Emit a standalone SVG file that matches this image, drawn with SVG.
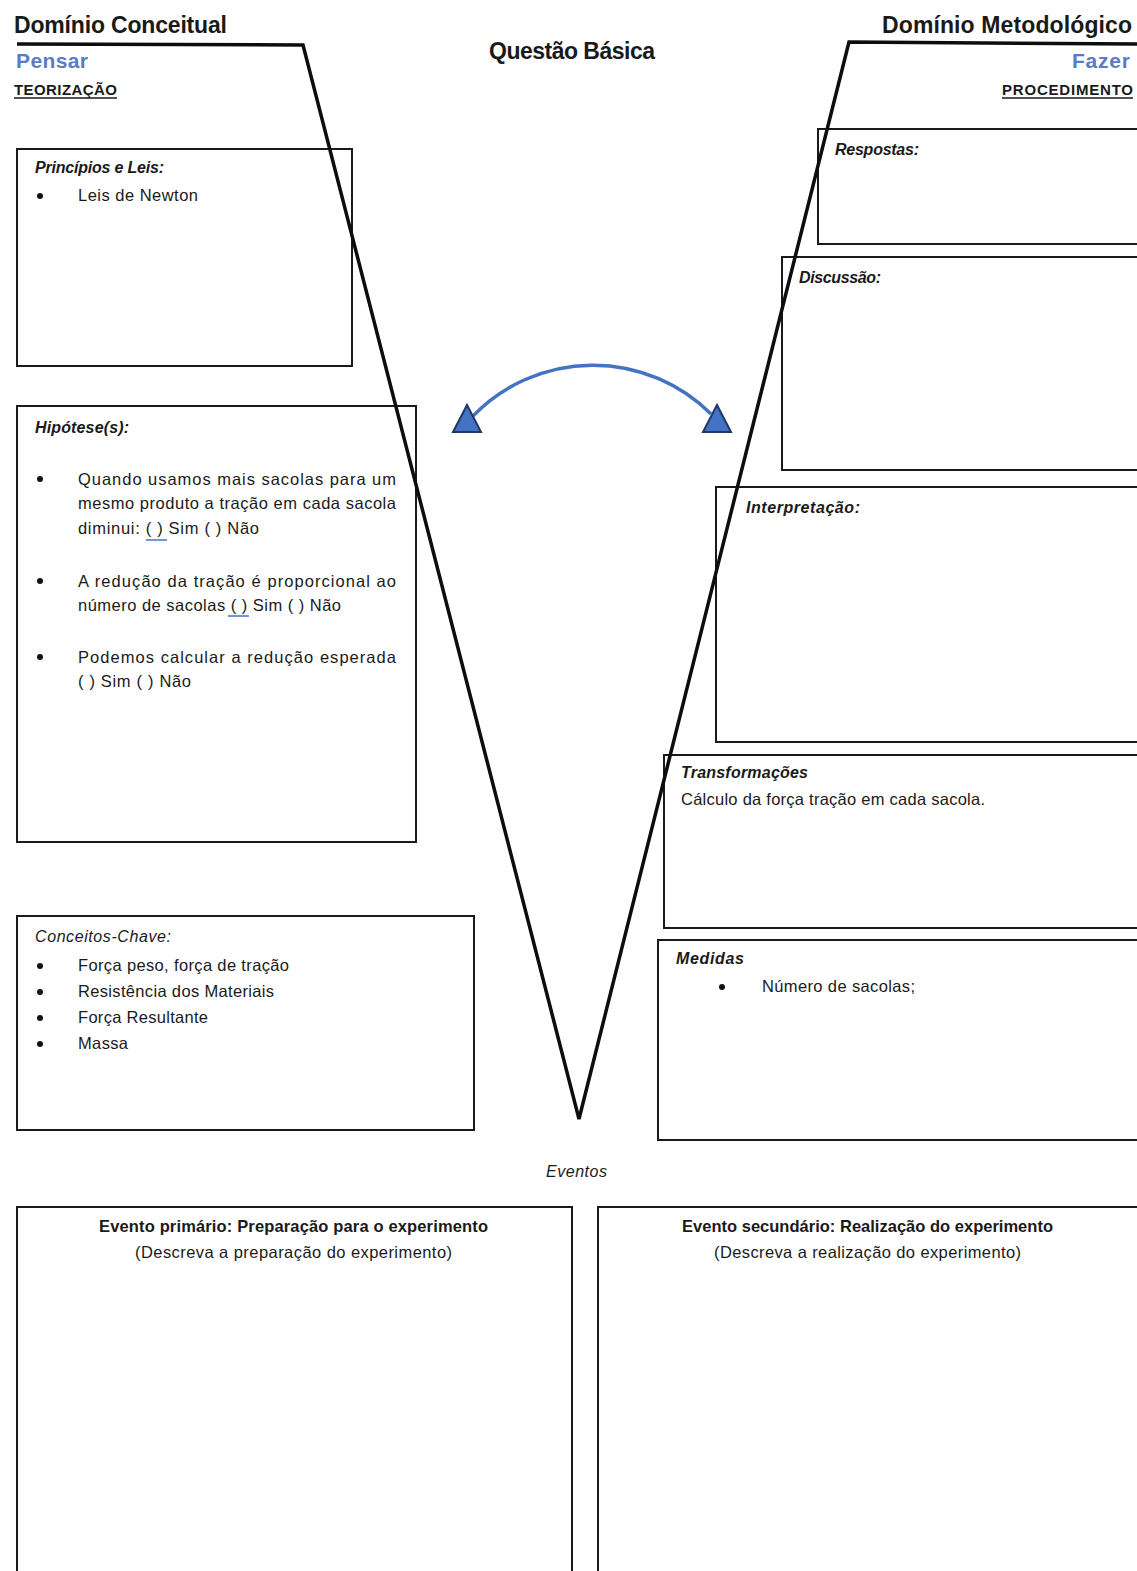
<svg xmlns="http://www.w3.org/2000/svg" width="1137" height="1571" viewBox="0 0 1137 1571">
  <style>
    text { font-family: "Liberation Sans", Arial, sans-serif; fill: #1a1a1a; }
    .head { font-size: 23px; font-weight: bold; }
    .blue { font-size: 21px; font-weight: bold; fill: #5b7bc4; }
    .sub { font-size: 15px; font-weight: bold; }
    .ttl { font-size: 16px; font-style: italic; font-weight: bold; }
    .ttln { font-size: 16px; font-style: italic; }
    .body { font-size: 16.5px; }
    .evt { font-size: 16.5px; font-weight: bold; }
    .box { fill: none; stroke: #1a1a1a; stroke-width: 2; }
    .vline { fill: none; stroke: #0d0d0d; stroke-width: 3.5; stroke-linejoin: miter; }
    .bul { fill: #111; }
    .ul { stroke: #1a1a1a; stroke-width: 1.5; }
    .bul-ul { stroke: #4472c4; stroke-width: 1.5; }
    .arc { fill: none; stroke: #4472c4; stroke-width: 3.5; }
    .tri { fill: #4472c4; stroke: #203864; stroke-width: 2; stroke-linejoin: miter; }
  </style>

  <rect width="1137" height="1571" fill="#ffffff"/>

  <!-- Headings -->
  <g id="header-conceitual">
    <text class="head" x="14" y="33" textLength="213">Domínio Conceitual</text>
    <text class="blue" x="16" y="68" textLength="72">Pensar</text>
    <text class="sub" x="14" y="95" textLength="103">TEORIZAÇÃO</text>
    <line class="ul" x1="14" y1="98" x2="117" y2="98"/>
  </g>
  <g id="header-questao">
    <text class="head" x="489" y="59" font-size="21" textLength="166">Questão Básica</text>
  </g>
  <g id="header-metodologico">
    <text class="head" x="882" y="33" textLength="250">Domínio Metodológico</text>
    <text class="blue" x="1072" y="68" textLength="58">Fazer</text>
    <text class="sub" x="1002" y="95" textLength="131">PROCEDIMENTO</text>
    <line class="ul" x1="1002" y1="98" x2="1133" y2="98"/>
  </g>

  <!-- Left column -->
  <g id="principios">
    <rect class="box" x="17" y="149" width="335" height="217"/>
    <text class="ttl" x="35" y="173" textLength="129">Princípios e Leis:</text>
    <circle class="bul" cx="40" cy="196" r="3"/>
    <text class="body" x="78" y="201" textLength="120">Leis de Newton</text>
  </g>

  <g id="hipoteses">
    <rect class="box" x="17" y="406" width="399" height="436"/>
    <text class="ttl" x="35" y="433" textLength="94">Hipótese(s):</text>
    <circle class="bul" cx="40" cy="479" r="3"/>
    <text class="body" x="78" y="485" textLength="318">Quando usamos mais sacolas para um</text>
    <text class="body" x="78" y="509" textLength="318">mesmo produto a tração em cada sacola</text>
    <text class="body" x="78" y="534" textLength="181">diminui: ( ) Sim ( ) Não</text>
    <line class="bul-ul" x1="146" y1="540" x2="167" y2="540"/>
    <circle class="bul" cx="40" cy="581" r="3"/>
    <text class="body" x="78" y="587" textLength="318">A redução da tração é proporcional ao</text>
    <text class="body" x="78" y="611" textLength="263">número de sacolas ( ) Sim ( ) Não</text>
    <line class="bul-ul" x1="228" y1="616" x2="249" y2="616"/>
    <circle class="bul" cx="40" cy="657" r="3"/>
    <text class="body" x="78" y="663" textLength="318">Podemos calcular a redução esperada</text>
    <text class="body" x="78" y="687" textLength="113">( ) Sim ( ) Não</text>
  </g>

  <g id="conceitos">
    <rect class="box" x="17" y="916" width="457" height="214"/>
    <text class="ttln" x="35" y="942" textLength="136">Conceitos-Chave:</text>
    <circle class="bul" cx="40" cy="966" r="3"/>
    <text class="body" x="78" y="971" textLength="211">Força peso, força de tração</text>
    <circle class="bul" cx="40" cy="992" r="3"/>
    <text class="body" x="78" y="997" textLength="196">Resistência dos Materiais</text>
    <circle class="bul" cx="40" cy="1018" r="3"/>
    <text class="body" x="78" y="1023" textLength="130">Força Resultante</text>
    <circle class="bul" cx="40" cy="1044" r="3"/>
    <text class="body" x="78" y="1049" textLength="50">Massa</text>
  </g>

  <!-- Right column (boxes run off the right edge) -->
  <g id="respostas">
    <path class="box" d="M1140,129 H818 V244 H1140"/>
    <text class="ttl" x="835" y="155" textLength="84">Respostas:</text>
  </g>
  <g id="discussao">
    <path class="box" d="M1140,257 H782 V470 H1140"/>
    <text class="ttl" x="799" y="283" textLength="82">Discussão:</text>
  </g>
  <g id="interpretacao">
    <path class="box" d="M1140,487 H716 V742 H1140"/>
    <text class="ttl" x="746" y="513" textLength="114">Interpretação:</text>
  </g>
  <g id="transformacoes">
    <path class="box" d="M1140,755 H664 V928 H1140"/>
    <text class="ttl" x="681" y="778" textLength="127">Transformações</text>
    <text class="body" x="681" y="805" textLength="304">Cálculo da força tração em cada sacola.</text>
  </g>
  <g id="medidas">
    <path class="box" d="M1140,940 H658 V1140 H1140"/>
    <text class="ttl" x="676" y="964" textLength="68">Medidas</text>
    <circle class="bul" cx="722" cy="987" r="3"/>
    <text class="body" x="762" y="992" textLength="153">Número de sacolas;</text>
  </g>

  <!-- Events -->
  <g id="eventos-label">
    <text class="ttln" x="546" y="1177" textLength="61">Eventos</text>
  </g>
  <g id="evento-primario">
    <path class="box" d="M17,1575 V1207 H572 V1575"/>
    <text class="evt" x="99" y="1232" textLength="389">Evento primário: Preparação para o experimento</text>
    <text class="body" x="135" y="1258" textLength="317">(Descreva a preparação do experimento)</text>
  </g>
  <g id="evento-secundario">
    <path class="box" d="M598,1575 V1207 H1140"/>
    <text class="evt" x="682" y="1232" textLength="371">Evento secundário: Realização do experimento</text>
    <text class="body" x="714" y="1258" textLength="307">(Descreva a realização do experimento)</text>
  </g>

  <!-- Connectors: the V outline and the two-way arc -->
  <g id="connectors">
    <path class="vline" d="M17,44 L303,45 L579,1119 L849,42 L1137,44"/>
    <path class="arc" d="M473,416 A167,167 0 0 1 711,414"/>
    <polygon class="tri" points="467,405 453,432 481,432"/>
    <polygon class="tri" points="717,405 703,432 731,432"/>
  </g>
</svg>
